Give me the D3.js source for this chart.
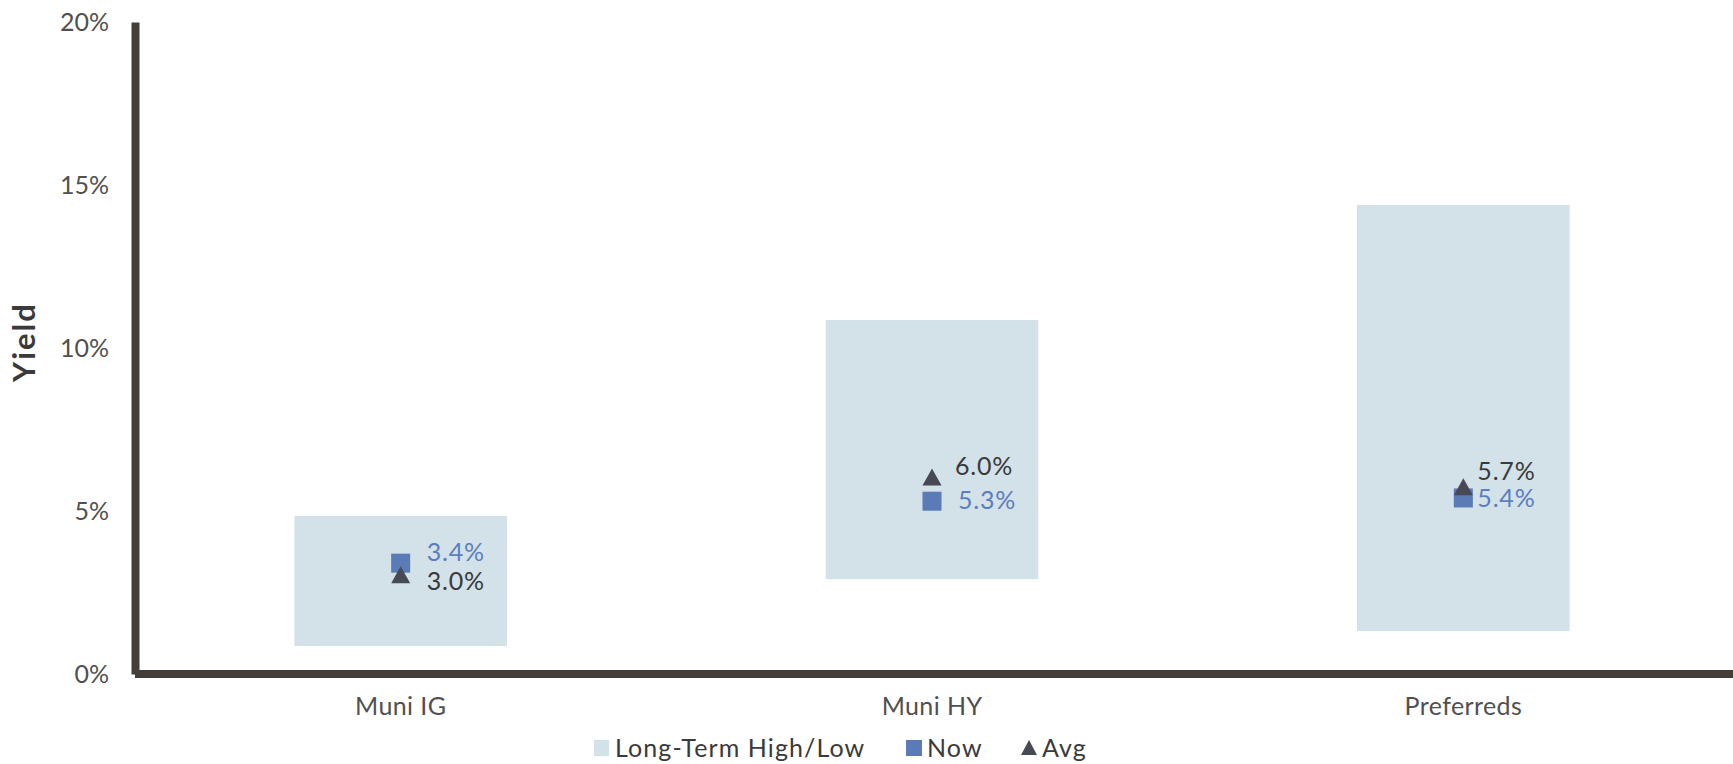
<!DOCTYPE html>
<html>
<head>
<meta charset="utf-8">
<script src="https://cdn.jsdelivr.net/npm/d3@7/dist/d3.min.js"></script>
<style>
  html, body { margin: 0; padding: 0; background: #ffffff; }
  svg { display: block; font-family: Lato, "Open Sans", sans-serif; }
</style>
</head>
<body>
<svg id="chart" width="1733" height="764"></svg>
<script>
// ---- data ----
const categories = ["Muni IG", "Muni HY", "Preferreds"];
const rangeHigh  = [4.85, 10.86, 14.39];
const rangeLow   = [0.86, 2.91, 1.32];
const nowValues  = [3.4, 5.3, 5.4];
const avgValues  = [3.0, 6.0, 5.7];
const yTicks     = [0, 5, 10, 15, 20];
const legendLabels = ["Long-Term High/Low", "Now", "Avg"];

// label nudges (px) so the two value labels don't collide
const nowLabelNudge = [{dx: 26, dy: -11}, {dx: 26, dy: -1}, {dx: 14, dy: 0}];
const avgLabelNudge = [{dx: 26, dy: 5},   {dx: 23, dy: -12}, {dx: 14, dy: -17}];

// ---- style ----
const C = {
  band: "#d3e1e8",
  now: "#5a7bb6",
  avg: "#474954",
  axis: "#423f3a",
  tick: "#505050",
  text: "#3a3a3a",
  nowText: "#5b7ec0"
};
const FONT = 25;

const W = 1733, H = 764;
const plot = { left: 135, right: 1729, top: 22, bottom: 674 };

const svg = d3.select("#chart");

const x = d3.scaleBand().domain(categories).range([plot.left, plot.right]).padding(0);
const y = d3.scaleLinear().domain([0, 20]).range([plot.bottom, plot.top]);
const boxW = x.bandwidth() * 0.4;
const cx = i => x(categories[i]) + x.bandwidth() / 2;

// high/low range boxes
svg.append("g").selectAll("rect")
  .data(categories)
  .join("rect")
  .attr("x", (d, i) => cx(i) - boxW / 2)
  .attr("width", boxW)
  .attr("y", (d, i) => y(rangeHigh[i]))
  .attr("height", (d, i) => y(rangeLow[i]) - y(rangeHigh[i]))
  .attr("fill", C.band);

// y axis
const yAxis = svg.append("g")
  .attr("transform", `translate(${plot.left},0)`)
  .call(d3.axisLeft(y).tickValues(yTicks).tickFormat(d => d + "%")
        .tickSizeInner(0).tickSizeOuter(0).tickPadding(26));
yAxis.select(".domain").attr("stroke", C.axis).attr("stroke-width", 8);
yAxis.selectAll("text").attr("font-size", FONT).attr("fill", C.tick)
  .attr("font-family", "Lato, sans-serif");

// x axis
const xAxis = svg.append("g")
  .attr("transform", `translate(0,${plot.bottom})`)
  .call(d3.axisBottom(x).tickSizeInner(0).tickSizeOuter(0).tickPadding(23));
xAxis.select(".domain")
  .attr("d", `M${plot.left},0H${W}`)
  .attr("stroke", C.axis).attr("stroke-width", 8);
xAxis.selectAll("text").attr("font-size", FONT).attr("fill", C.tick)
  .attr("font-family", "Lato, sans-serif")
  .attr("letter-spacing", 0.4);

// y axis title
svg.append("text")
  .attr("transform", `translate(35,342) rotate(-90)`)
  .attr("text-anchor", "middle")
  .attr("font-size", 31)
  .attr("font-weight", "bold")
  .attr("letter-spacing", 2)
  .attr("fill", C.text)
  .text("Yield");

// markers
const sq = 19;
const triPath = "M0,-10L9.5,7L-9.5,7Z";

svg.append("g").selectAll("rect")
  .data(nowValues)
  .join("rect")
  .attr("x", (d, i) => cx(i) - sq / 2)
  .attr("y", d => y(d) - sq / 2)
  .attr("width", sq).attr("height", sq)
  .attr("fill", C.now);

svg.append("g").selectAll("path")
  .data(avgValues)
  .join("path")
  .attr("transform", (d, i) => `translate(${cx(i)},${y(d)})`)
  .attr("d", triPath)
  .attr("fill", C.avg);

// value labels
svg.append("g").selectAll("text")
  .data(nowValues)
  .join("text")
  .attr("x", (d, i) => cx(i) + nowLabelNudge[i].dx)
  .attr("y", (d, i) => y(d) + nowLabelNudge[i].dy)
  .attr("dy", "0.36em")
  .attr("font-size", FONT)
  .attr("letter-spacing", 0.8)
  .attr("fill", C.nowText)
  .text(d => d.toFixed(1) + "%");

svg.append("g").selectAll("text")
  .data(avgValues)
  .join("text")
  .attr("x", (d, i) => cx(i) + avgLabelNudge[i].dx)
  .attr("y", (d, i) => y(d) + avgLabelNudge[i].dy)
  .attr("dy", "0.36em")
  .attr("font-size", FONT)
  .attr("letter-spacing", 0.8)
  .attr("fill", C.text)
  .text(d => d.toFixed(1) + "%");

// legend
const legendY = 748;
const legendX = [594, 906, 1021];
const lg = svg.append("g");
legendLabels.forEach((label, i) => {
  const g = lg.append("g").attr("transform", `translate(${legendX[i]},${legendY})`);
  if (i === 2) {
    g.append("path").attr("d", "M8,-8L16,7L0,7Z").attr("fill", C.avg);
  } else {
    g.append("rect").attr("x", 0).attr("y", -8).attr("width", i === 0 ? 15 : 16).attr("height", 16)
      .attr("fill", i === 0 ? C.band : C.now);
  }
  g.append("text")
    .attr("x", 21)
    .attr("dy", "0.36em")
    .attr("font-size", FONT)
    .attr("letter-spacing", 1.1)
    .attr("fill", C.text)
    .text(label);
});
</script>
</body>
</html>
